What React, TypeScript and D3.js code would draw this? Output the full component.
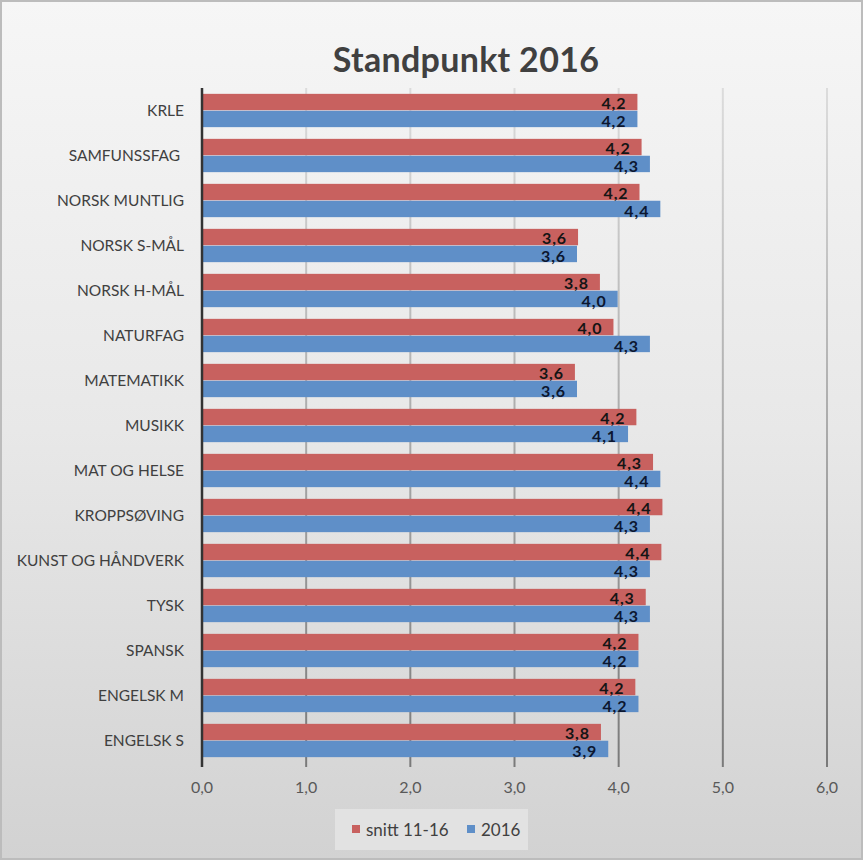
import React from "react";
import * as d3 from "d3";

const categories = [
  "KRLE",
  "SAMFUNSSFAG ",
  "NORSK MUNTLIG",
  "NORSK S-MÅL",
  "NORSK H-MÅL",
  "NATURFAG",
  "MATEMATIKK",
  "MUSIKK",
  "MAT OG HELSE",
  "KROPPSØVING",
  "KUNST OG HÅNDVERK",
  "TYSK",
  "SPANSK",
  "ENGELSK M",
  "ENGELSK S",
];
const snitt = [4.18, 4.22, 4.2, 3.61, 3.82, 3.95, 3.58, 4.17, 4.33, 4.42, 4.41, 4.26, 4.19, 4.16, 3.83];
const y2016 = [4.18, 4.3, 4.4, 3.6, 3.99, 4.3, 3.6, 4.09, 4.4, 4.3, 4.3, 4.3, 4.19, 4.19, 3.9];
const seriesNames = ["snitt 11-16", "2016"];
const ticks = [0, 1, 2, 3, 4, 5, 6];

const W = 863;
const H = 860;
const colors = ["#c8615f", "#5f8fc8"];
const labelColors = ["#151515", "#0c1730"];
const fmt = (v: number) => v.toFixed(1).replace(".", ",");

export default function App() {
  const x = d3.scaleLinear().domain([0, 6]).range([202, 827]);
  const y = d3.scaleBand<string>().domain(categories).range([88, 763]).paddingInner(0.26).paddingOuter(0.13);
  const inner = d3.scaleBand<string>().domain(seriesNames).range([0, y.bandwidth()]).paddingInner(0.03);
  const series = [snitt, y2016];
  const font = "Lato, 'Open Sans', sans-serif";

  return (
    <div style={{ position: "absolute", left: 0, top: 0 }}>
      <svg width={W} height={H} style={{ display: "block" }}>
        <defs>
          <linearGradient id="bg" x1="0" y1="0" x2="0" y2="1">
            <stop offset="0" stopColor="#f6f6f6" />
            <stop offset="0.5" stopColor="#e8e8e8" />
            <stop offset="1" stopColor="#d2d2d2" />
          </linearGradient>
          <linearGradient id="grid" gradientUnits="userSpaceOnUse" x1="0" y1="88" x2="0" y2="766">
            <stop offset="0" stopColor="#dcdcdc" />
            <stop offset="1" stopColor="#7a7a7a" />
          </linearGradient>
        </defs>
        <rect x={0} y={0} width={W} height={H} fill="url(#bg)" />
        <rect x={1} y={1} width={W - 2} height={H - 2} fill="none" stroke="#bcbcbc" strokeWidth={2} />
        <text x={466} y={72} textAnchor="middle" fontFamily={font} fontWeight={700} fontSize={34} letterSpacing={0.3} fill="#404040">
          Standpunkt 2016
        </text>
        {ticks.slice(1).map((t) => (
          <line key={t} x1={x(t)} x2={x(t)} y1={88} y2={767} stroke="url(#grid)" strokeWidth={2} />
        ))}
        {categories.map((c, i) => (
          <g key={c}>
            {series.map((s, k) => {
              const by = (y(c) as number) + (inner(seriesNames[k]) as number);
              const bh = inner.bandwidth();
              return (
                <g key={k}>
                  <rect x={x(0)} y={by} width={x(s[i]) - x(0)} height={bh} fill={colors[k]} />
                  <text
                    x={x(s[i]) - 11}
                    y={by + bh - (k === 0 ? 1.5 : 0.5)}
                    textAnchor="end"
                    fontFamily={font}
                    fontWeight={700}
                    fontSize={16}
                    letterSpacing={0.9}
                    fill={labelColors[k]}
                  >
                    {fmt(s[i])}
                  </text>
                </g>
              );
            })}
            <text
              x={184}
              y={(y(c) as number) + y.bandwidth() / 2 + 5.5}
              textAnchor="end"
              fontFamily={font}
              fontSize={15.5}
              fill="#404040"
              style={{ whiteSpace: "pre" }}
            >
              {c}
            </text>
          </g>
        ))}
        <line x1={x(0)} x2={x(0)} y1={88} y2={767} stroke="#333" strokeWidth={2.5} />
        {ticks.map((t) => (
          <text key={t} x={x(t)} y={793} textAnchor="middle" fontFamily={font} fontSize={16} fill="#595959">
            {fmt(t)}
          </text>
        ))}
        <rect x={335} y={809} width={193} height={41} fill="#e2e2e2" />
        {seriesNames.map((n, k) => {
          const lx = k === 0 ? 352 : 467;
          return (
            <g key={n}>
              <rect x={lx} y={825} width={8} height={8} fill={colors[k]} />
              <text x={lx + 14} y={836} fontFamily={font} fontSize={17} fill="#404040">
                {n}
              </text>
            </g>
          );
        })}
      </svg>
    </div>
  );
}
